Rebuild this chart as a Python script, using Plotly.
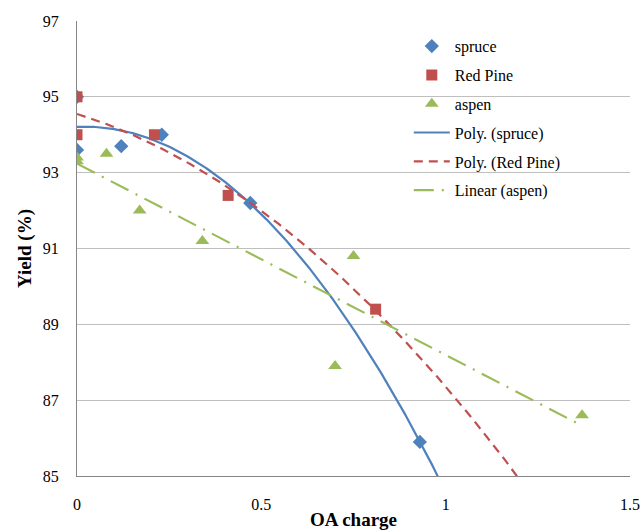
import numpy as np
import plotly.graph_objects as go

spruce_x = [0, 0, 0.12, 0.23, 0.47, 0.93]
spruce_y = [95.0, 93.6, 93.7, 94.0, 92.2, 85.9]
pine_x = [0, 0, 0.21, 0.41, 0.81]
pine_y = [95.0, 94.0, 94.0, 92.4, 89.4]
aspen_x = [0, 0, 0.08, 0.17, 0.34, 0.70, 0.75, 1.37]
aspen_y = [93.4, 93.3, 93.5, 92.0, 91.2, 87.9, 90.8, 86.6]

x_ticks = [0, 0.5, 1, 1.5]
x_tick_text = ["0", "0.5", "1", "1.5"]
y_ticks = [85, 87, 89, 91, 93, 95, 97]

BLUE = "#4F81BD"
RED = "#C0504D"
GREEN = "#9BBB59"
FONT = "Liberation Serif"
FS = 16

xs = np.linspace(0, max(aspen_x), 300)
c_sp = np.polyfit(spruce_x, spruce_y, 2)
c_pn = np.polyfit(pine_x, pine_y, 2)
c_as = np.polyfit(aspen_x, aspen_y, 1)
xl = np.array([0, max(aspen_x)])

fig = go.Figure()
fig.add_trace(go.Scatter(x=spruce_x, y=spruce_y, mode="markers", name="spruce", legendgroup="a",
                         legendrank=1, marker=dict(symbol="diamond", size=11, color=BLUE)))
fig.add_trace(go.Scatter(x=xs, y=np.polyval(c_sp, xs), mode="lines", name="Poly. (spruce)",
                         legendgroup="d", legendrank=4,
                         line=dict(color=BLUE, width=2.2)))
fig.add_trace(go.Scatter(x=xs, y=np.polyval(c_pn, xs), mode="lines", name="Poly. (Red Pine)",
                         legendgroup="e", legendrank=5,
                         line=dict(color=RED, width=2.2, dash="9px,6px")))
fig.add_trace(go.Scatter(x=xl, y=np.polyval(c_as, xl), mode="lines", name="Linear (aspen)",
                         legendgroup="f", legendrank=6,
                         line=dict(color=GREEN, width=2.2, dash="20px,8px,2px,8px")))
fig.add_trace(go.Scatter(x=pine_x, y=pine_y, mode="markers", name="Red Pine", legendgroup="b",
                         legendrank=2, marker=dict(symbol="square", size=11, color=RED)))
fig.add_trace(go.Scatter(x=aspen_x, y=aspen_y, mode="markers", name="aspen", legendgroup="c",
                         legendrank=3, marker=dict(symbol="triangle-up", size=12, color=GREEN)))

fig.update_layout(
    width=644, height=530,
    margin=dict(l=77, r=14, t=21, b=54),
    paper_bgcolor="white", plot_bgcolor="white",
    font=dict(family=FONT, size=FS, color="black"),
    showlegend=True,
    legend=dict(x=0.6, y=0.982, xanchor="left", yanchor="top",
                bgcolor="rgba(0,0,0,0)", font=dict(family=FONT, size=FS, color="black"),
                tracegroupgap=5, itemwidth=36),
    xaxis=dict(range=[0, 1.5], tickvals=x_ticks, ticktext=x_tick_text, automargin=False,
               showgrid=False, zeroline=False, showline=True, linecolor="#868686",
               linewidth=1.3, ticks="", ticklabelstandoff=14,
               tickfont=dict(family=FONT, size=FS, color="black"),
               title=dict(text="<b>OA charge</b>", font=dict(family=FONT, size=19), standoff=4)),
    yaxis=dict(range=[85, 97], tickvals=y_ticks, showgrid=True, gridcolor="#BFBFBF",
               gridwidth=1.3, zeroline=False, showline=True, linecolor="#868686", automargin=False,
               linewidth=1.3, ticks="", ticklabelstandoff=14,
               tickfont=dict(family=FONT, size=FS, color="black"),
               title=dict(text="<b>Yield (%)</b>", font=dict(family=FONT, size=19), standoff=6)),
)

fig.write_html("out.html", post_script="document.body.style.margin='0';",
               config={"displayModeBar": False})
